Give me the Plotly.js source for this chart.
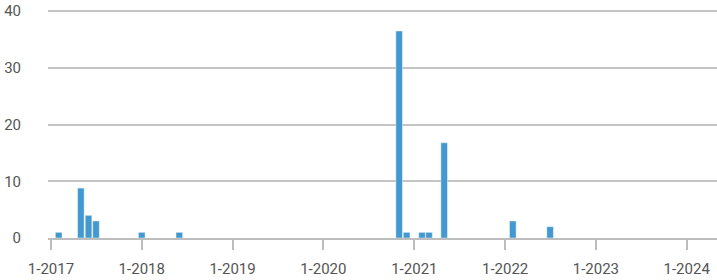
<!DOCTYPE html>
<html>
<head>
<meta charset="utf-8">
<script src="https://cdn.plot.ly/plotly-3.0.1.min.js"></script>
<style>html,body{margin:0;padding:0;background:#fff;}#chart{width:717px;height:280px;}</style>
</head>
<body>
<div id="chart"></div>
<script>
const months = ["2017-02-01","2017-05-01","2017-06-01","2017-07-01","2018-01-01","2018-06-01","2020-11-01","2020-12-01","2021-02-01","2021-03-01","2021-05-01","2022-02-01","2022-07-01"];
const counts = [1, 8.8, 4, 3, 1, 1, 36.5, 1, 1, 1, 16.8, 3, 2];
const yTicks = [0, 10, 20, 30, 40];

const DAY = 86400000;
const trace = {
  type: 'bar',
  x: months,
  y: counts,
  width: months.map(() => 26.8 * DAY),
  marker: {color: '#4399cf', line: {color: 'rgba(255,255,255,0.45)', width: 1}},
  hoverinfo: 'x+y'
};
const layout = {
  width: 717, height: 280,
  margin: {l: 48, r: 0, t: 10, b: 42},
  paper_bgcolor: '#fff', plot_bgcolor: '#fff',
  showlegend: false,
  font: {family: 'Roboto, sans-serif', size: 15, color: '#555'},
  xaxis: {
    type: 'date',
    range: ['2016-12-20', '2024-05-02'],
    tick0: '2017-01-01', dtick: 'M12', tickformat: '%-m-%Y',
    showgrid: false, zeroline: false,
    showline: true, linecolor: '#bdbdbd', linewidth: 2,
    ticks: 'outside', ticklen: 10, tickwidth: 2, tickcolor: '#bdbdbd',
    ticklabelstandoff: 6,
    tickfont: {size: 15, color: '#555'}
  },
  yaxis: {
    range: [0, 40.2],
    tickvals: yTicks,
    showgrid: true, gridcolor: '#c4c4c4', gridwidth: 2,
    zeroline: false, showline: false,
    ticks: '', ticklabelstandoff: 26,
    tickfont: {size: 15, color: '#555'}
  },
  bargap: 0
};
Plotly.newPlot('chart', [trace], layout, {displayModeBar: false, staticPlot: true});
</script>
</body>
</html>
